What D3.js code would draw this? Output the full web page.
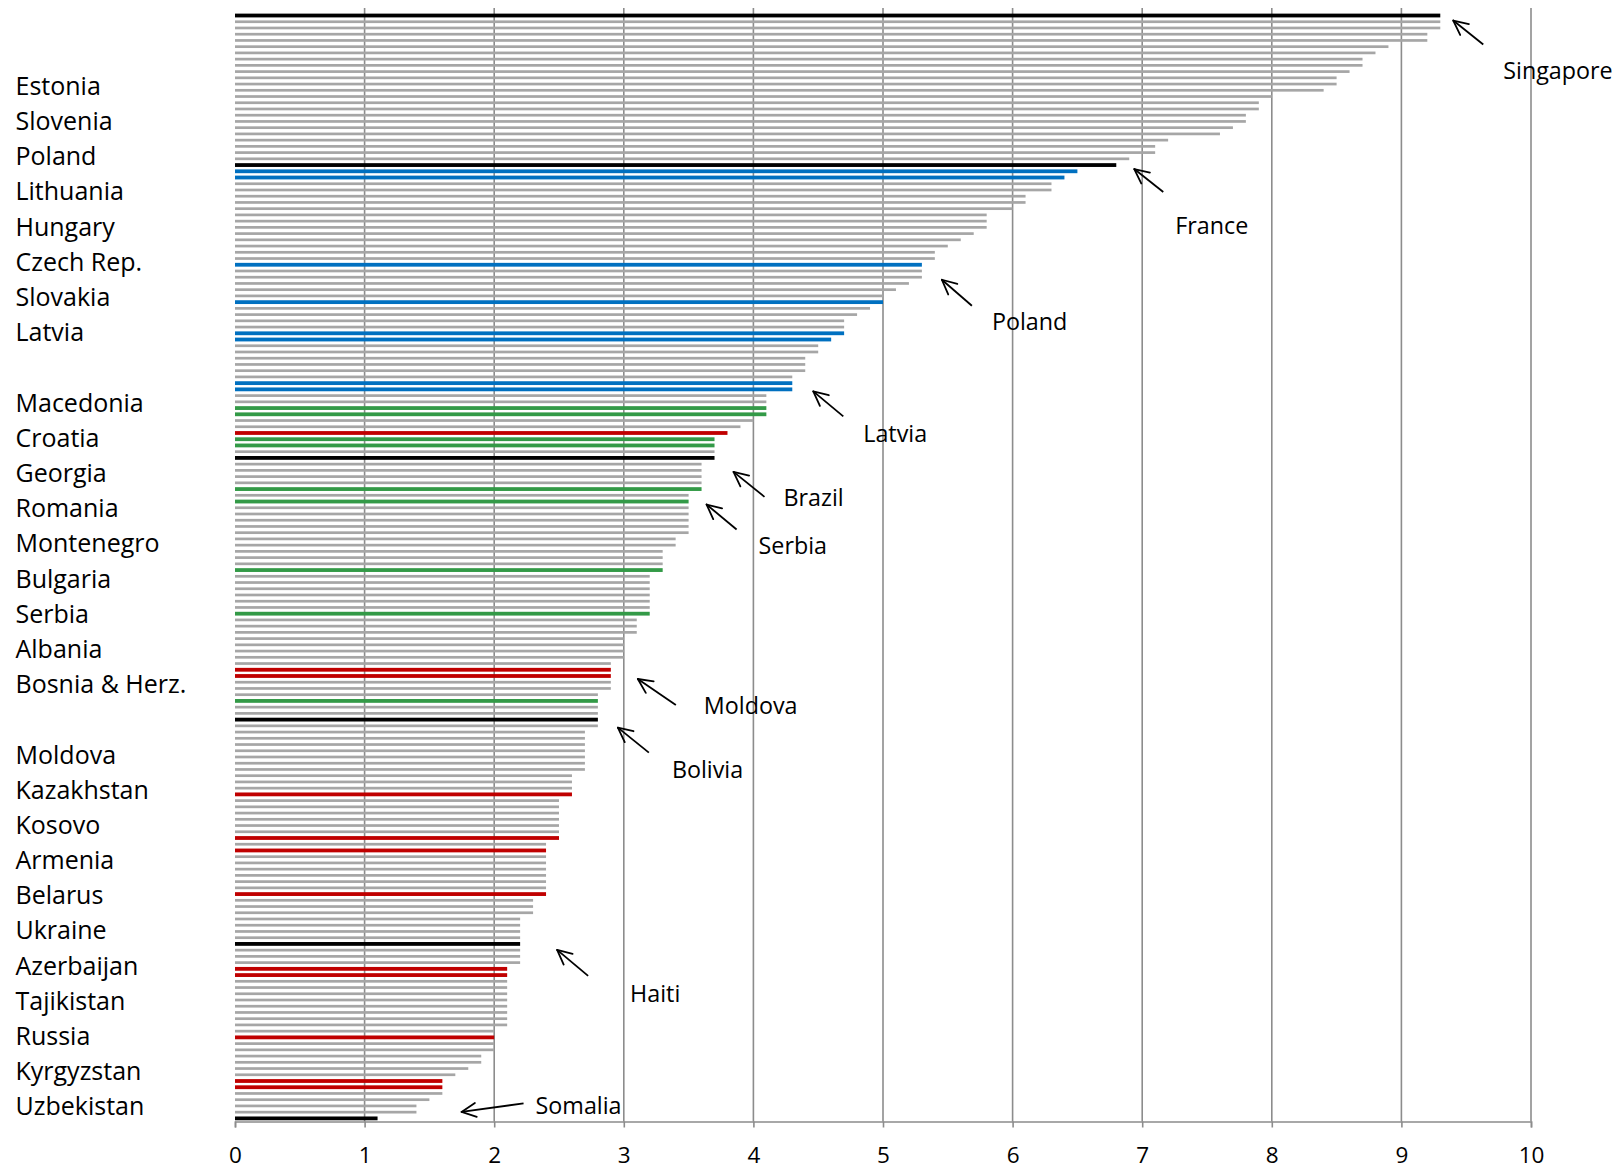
<!DOCTYPE html>
<html><head><meta charset="utf-8">
<script src="https://cdn.jsdelivr.net/npm/d3@7"></script>
<style>
body{margin:0;background:#fff}
svg{display:block}
text{font-family:"Open Sans",sans-serif;fill:#000}
</style>
</head><body>
<svg id="chart" width="1623" height="1170"></svg>
<script>
// ---------- DATA ----------
const scores = [
9.3,9.3,9.3,9.2,9.2,8.9,8.8,8.7,8.7,8.6,
8.5,8.5,8.4,8.0,7.9,7.9,7.8,7.8,7.7,7.6,
7.2,7.1,7.1,6.9,6.8,6.5,6.4,6.3,6.3,6.1,
6.1,6.0,5.8,5.8,5.8,5.7,5.6,5.5,5.4,5.4,
5.3,5.3,5.3,5.2,5.1,5.0,5.0,4.9,4.8,4.7,
4.7,4.7,4.6,4.5,4.5,4.4,4.4,4.4,4.3,4.3,
4.3,4.1,4.1,4.1,4.1,4.0,3.9,3.8,3.7,3.7,
3.7,3.7,3.6,3.6,3.6,3.6,3.6,3.5,3.5,3.5,
3.5,3.5,3.5,3.5,3.4,3.4,3.3,3.3,3.3,3.3,
3.2,3.2,3.2,3.2,3.2,3.2,3.2,3.1,3.1,3.1,
3.0,3.0,3.0,3.0,2.9,2.9,2.9,2.9,2.9,2.8,
2.8,2.8,2.8,2.8,2.8,2.7,2.7,2.7,2.7,2.7,
2.7,2.7,2.6,2.6,2.6,2.6,2.5,2.5,2.5,2.5,
2.5,2.5,2.5,2.4,2.4,2.4,2.4,2.4,2.4,2.4,
2.4,2.4,2.3,2.3,2.3,2.2,2.2,2.2,2.2,2.2,
2.2,2.2,2.2,2.1,2.1,2.1,2.1,2.1,2.1,2.1,
2.1,2.1,2.1,2.0,2.0,2.0,2.0,1.9,1.9,1.8,
1.7,1.6,1.6,1.6,1.5,1.4,1.4,1.1
];
// k = highlighted reference country, g = other, b = new EU members, e = Balkans, r = CIS
const groups = [
"k","g","g","g","g","g","g","g","g","g",
"g","g","g","g","g","g","g","g","g","g",
"g","g","g","g","k","b","b","g","g","g",
"g","g","g","g","g","g","g","g","g","g",
"b","g","g","g","g","g","b","g","g","g",
"g","b","b","g","g","g","g","g","g","b",
"b","g","g","e","e","g","g","r","e","e",
"g","k","g","g","g","g","e","g","e","g",
"g","g","g","g","g","g","g","g","g","e",
"g","g","g","g","g","g","e","g","g","g",
"g","g","g","g","g","r","r","g","g","g",
"e","g","g","k","g","g","g","g","g","g",
"g","g","g","g","g","r","g","g","g","g",
"g","g","r","g","r","g","g","g","g","g",
"g","r","g","g","g","g","g","g","g","k",
"g","g","g","r","r","g","g","g","g","g",
"g","g","g","g","r","g","g","g","g","g",
"g","r","r","g","g","g","g","k"
];
const rowLabels = [
"Estonia","Slovenia","Poland","Lithuania","Hungary","Czech Rep.","Slovakia","Latvia","",
"Macedonia","Croatia","Georgia","Romania","Montenegro","Bulgaria","Serbia","Albania","Bosnia & Herz.","",
"Moldova","Kazakhstan","Kosovo","Armenia","Belarus","Ukraine","Azerbaijan","Tajikistan","Russia","Kyrgyzstan","Uzbekistan"
];
const tickValues = [0,1,2,3,4,5,6,7,8,9,10];
const annotations = [
  {label:"Singapore", bar:0},
  {label:"France", bar:24},
  {label:"Poland", bar:40},
  {label:"Latvia", bar:60},
  {label:"Brazil", bar:71},
  {label:"Serbia", bar:78},
  {label:"Moldova", bar:106},
  {label:"Bolivia", bar:113},
  {label:"Haiti", bar:149},
  {label:"Somalia", bar:177}
];

// ---------- LAYOUT / STYLE ----------
const colors = {k:"#000000", g:"#a6a6a6", b:"#0070c0", e:"#339a47", r:"#c00000"};
const thick = {k:3.8, g:2.7, b:3.8, e:3.8, r:3.8};
// arrow tip, arrow tail, label anchor offsets relative to the bar end (px)
const annotLayout = {
  Singapore:{tip:[13,5],  tail:[43,29],  text:[63,55]},
  France:   {tip:[18,4],  tail:[47,27],  text:[59,61]},
  Poland:   {tip:[20,15], tail:[50,41],  text:[70,57]},
  Latvia:   {tip:[21,2],  tail:[51,27],  text:[71,44]},
  Brazil:   {tip:[19,14], tail:[50,39],  text:[69,40]},
  Serbia:   {tip:[18,3],  tail:[48,28],  text:[70,44]},
  Moldova:  {tip:[27,3],  tail:[65,29],  text:[93,30]},
  Bolivia:  {tip:[20,8],  tail:[51,33],  text:[74,50]},
  Haiti:    {tip:[37,6],  tail:[68,32],  text:[110,50]},
  Somalia:  {tip:[84,-6.5],tail:[146,-15],text:[158,-13]}
};

const svg = d3.select("#chart");
const x = d3.scaleLinear().domain([0,10]).range([235,1531]);
const y = d3.scaleBand().domain(d3.range(scores.length)).range([12.4,1121.5]);
const plotTop = 8, plotBottom = 1121.5;

// gridlines
svg.append("g").selectAll("line").data(tickValues.filter(d=>d>0)).join("line")
  .attr("x1",d=>x(d)).attr("x2",d=>x(d))
  .attr("y1",plotTop).attr("y2",plotBottom)
  .attr("stroke","#8c8c8c").attr("stroke-width",1.6);

// bars
svg.append("g").selectAll("rect").data(scores).join("rect")
  .attr("x",x(0))
  .attr("y",(d,i)=>y(i)+y.bandwidth()/2-thick[groups[i]]/2)
  .attr("width",d=>x(d)-x(0))
  .attr("height",(d,i)=>thick[groups[i]])
  .attr("fill",(d,i)=>colors[groups[i]]);

// x axis
const ax = svg.append("g").attr("transform",`translate(0,${plotBottom})`)
  .call(d3.axisBottom(x).tickValues(tickValues).tickSize(6).tickPadding(20).tickFormat(d3.format("d")));
ax.select(".domain").attr("stroke","#8c8c8c").attr("stroke-width",1.6);
ax.selectAll(".tick line").attr("stroke","#8c8c8c").attr("stroke-width",1.6);
ax.selectAll(".tick text").attr("font-size",22.5).attr("font-family","'Open Sans',sans-serif").attr("fill","#000");

// row labels on the left
const ly = d3.scalePoint().domain(d3.range(rowLabels.length)).range([85.9,1106.4]);
svg.append("g").selectAll("text").data(rowLabels).join("text")
  .attr("x",15.5).attr("y",(d,i)=>ly(i))
  .attr("dy","0.36em")
  .attr("font-size",25)
  .text(d=>d);

// annotations
const ag = svg.append("g");
annotations.forEach(a=>{
  const L = annotLayout[a.label];
  const bx = x(scores[a.bar]), by = y(a.bar)+y.bandwidth()/2;
  const tx = bx+L.tip[0], ty = by+L.tip[1];
  const sx = bx+L.tail[0], sy = by+L.tail[1];
  ag.append("line").attr("x1",sx).attr("y1",sy).attr("x2",tx).attr("y2",ty)
    .attr("stroke","#000").attr("stroke-width",1.8);
  const ang = Math.atan2(sy-ty, sx-tx);
  const hl = 16, ha = 0.45;
  [ang-ha, ang+ha].forEach(t=>{
    ag.append("line").attr("x1",tx).attr("y1",ty)
      .attr("x2",tx+hl*Math.cos(t)).attr("y2",ty+hl*Math.sin(t))
      .attr("stroke","#000").attr("stroke-width",1.8).attr("stroke-linecap","round");
  });
  ag.append("text").attr("x",bx+L.text[0]).attr("y",by+L.text[1])
    .attr("dy","0.36em").attr("font-size",23.3).text(a.label);
});
</script>
</body></html>
